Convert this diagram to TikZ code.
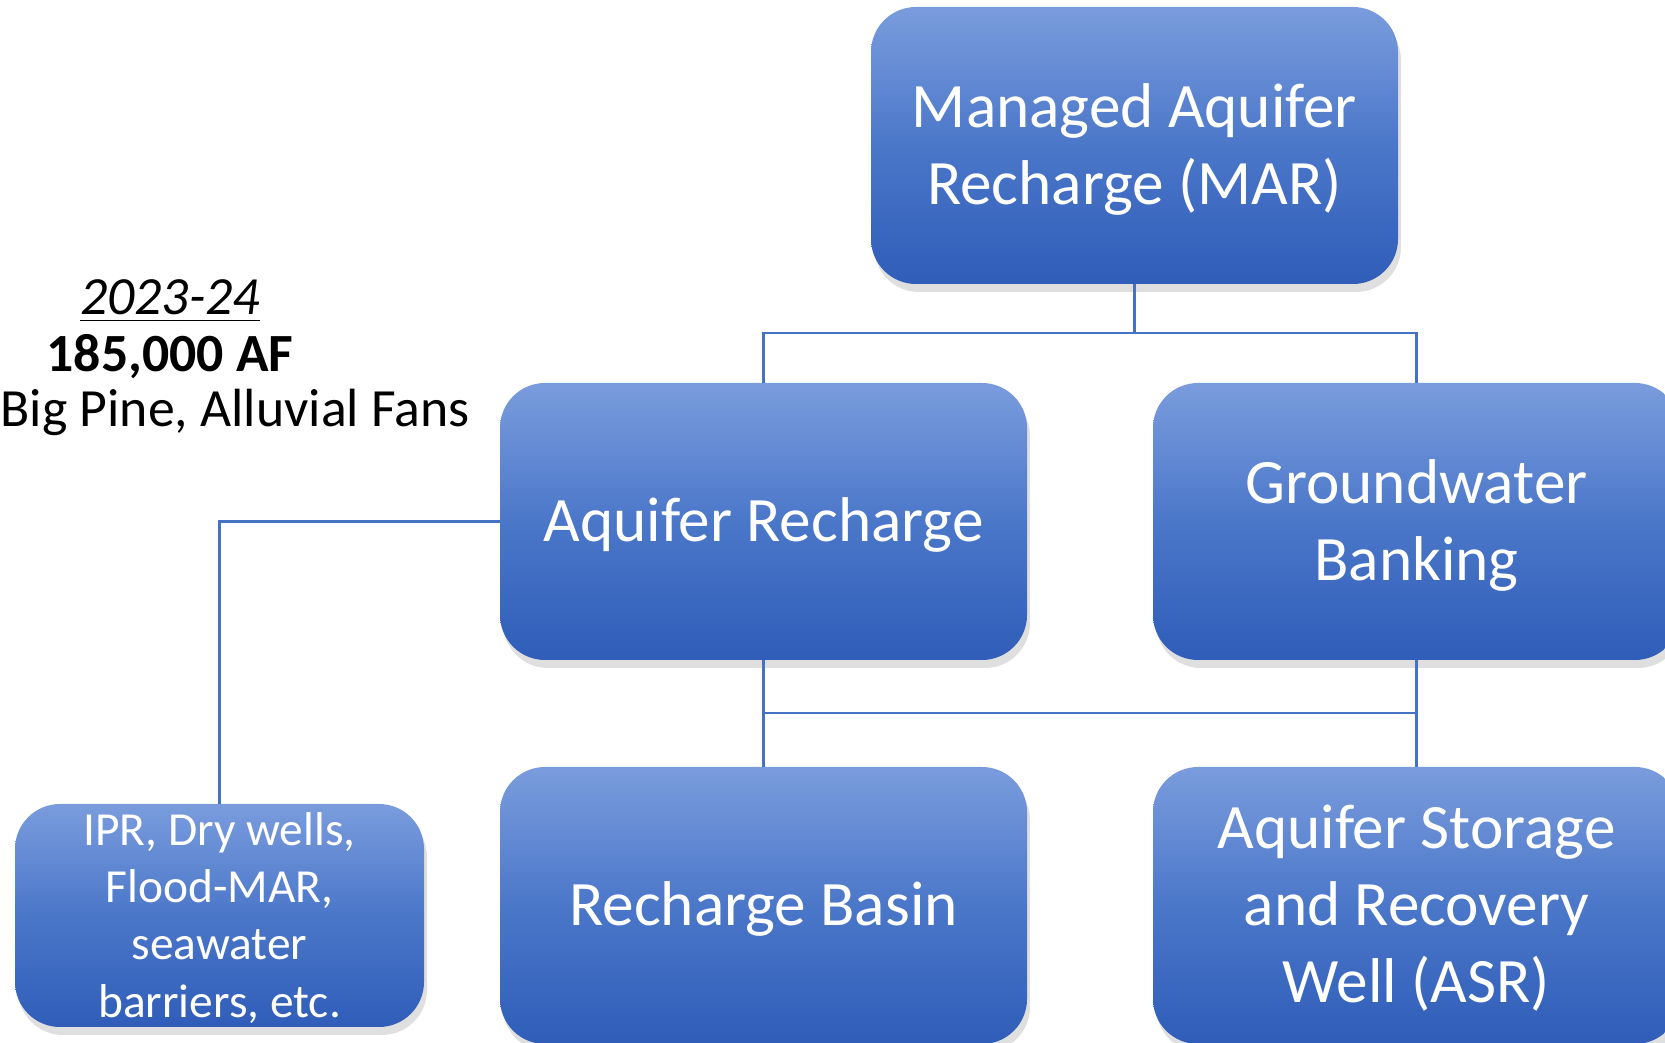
\documentclass[tikz,border=0pt]{standalone}
\usepackage{fontspec}
\setmainfont{Carlito}
\usetikzlibrary{
    positioning,
    shadows
}
\definecolor{boxtop}{HTML}{7A9CDD}
\definecolor{boxmid}{HTML}{4B77C9}
\definecolor{boxbot}{HTML}{2F5DB8}
\definecolor{linkblue}{HTML}{4472C4}
\tikzset{
    category/.style = {
        rectangle,
        rounded corners=0.45cm,
        top color=boxtop,
        bottom color=boxbot,
        middle color=boxmid,
        drop shadow={shadow xshift=0.03cm, shadow yshift=-0.08cm, opacity=0.25},
        text=white,
        minimum width=5.27cm,
        minimum height=2.77cm,
        inner sep=0pt,
        outer sep=0pt,
        align=center,
        text depth=1pt,
        font=\fontsize{18}{22}\selectfont
    },
    method/.style = {
        category,
        minimum width=4.09cm,
        minimum height=2.23cm,
        text depth=0.5pt,
        font=\fontsize{13.5}{16.3}\selectfont
    },
    link/.style = {
        draw=linkblue,
        line width=0.6pt
    },
    note/.style = {
        inner sep=0pt,
        font=\fontsize{15.3}{16.5}\selectfont
    }
}
\begin{document}
\begin{tikzpicture}
\useasboundingbox (0,0) rectangle (16.65,-10.43);
\node (MAR) [category] at (11.345,-1.455) {Managed Aquifer\\Recharge (MAR)};
\node (AR) [category] at (7.635,-5.215) {Aquifer Recharge};
\node (GWB) [category,right=1.26cm of AR] {Groundwater\\Banking};
\node (RB) [category,below=1.07cm of AR] {Recharge Basin};
\node (ASR) [category,below=1.07cm of GWB] {Aquifer Storage\\and Recovery\\Well (ASR)};
\node (IPR) [method] at (2.195,-9.155) {IPR, Dry wells,\\Flood-MAR,\\seawater\\barriers, etc.};

\node (YR) [note,anchor=base] at (1.70,-3.15) {\textit{\underline{2023-24}}};
\node (AF) [note,anchor=base] at (1.70,-3.72) {\textbf{185,000 AF}};
\node (LOC) [note,anchor=base west] at (0,-4.27) {Big Pine, Alluvial Fans};

\draw[link] (MAR.south) -- ++(0,-0.49);
\draw[link] (AR.north) -- ++(0,0.5) -| (GWB.north);
\draw[link] (AR.south) -- ++(0,-0.53) -| (ASR.north);
\draw[link] (GWB.south) -- ++(0,-0.53) -| (RB.north);
\draw[link] (AR.west) -| (IPR.north);
\end{tikzpicture}
\end{document}
